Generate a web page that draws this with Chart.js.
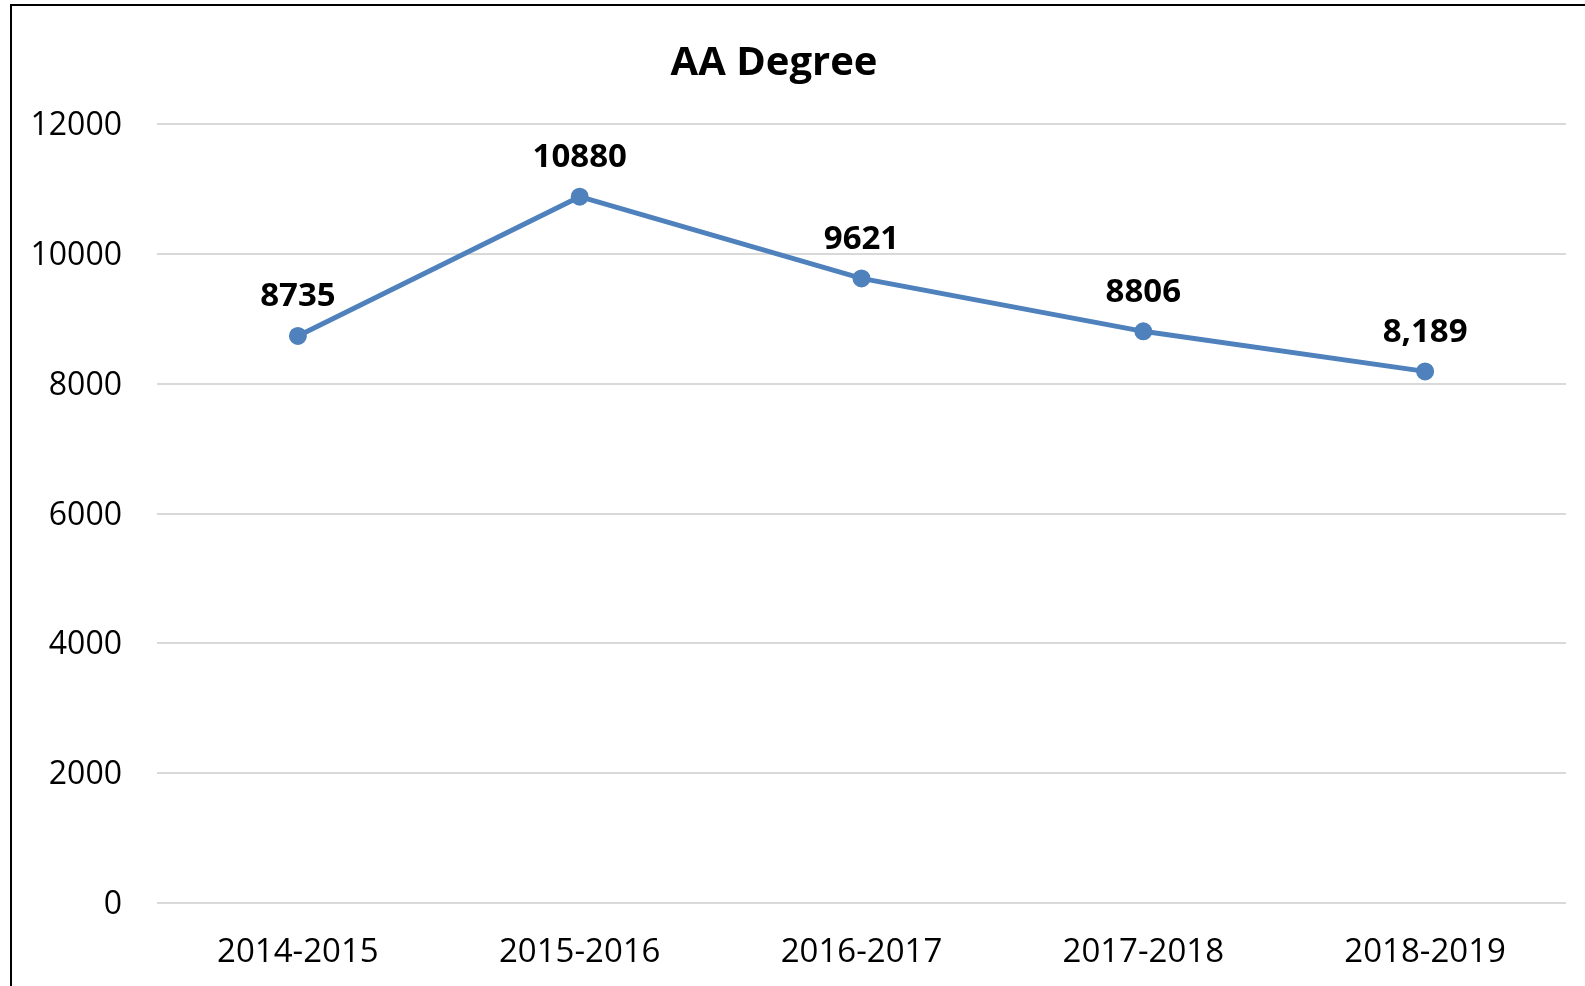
<!DOCTYPE html>
<html>
<head>
<meta charset="utf-8">
<script src="https://cdn.jsdelivr.net/npm/chart.js@4.4.1/dist/chart.umd.min.js"></script>
<style>
  html, body { margin: 0; padding: 0; background: #fff; overflow: hidden; }
  #wrap { position: absolute; left: 0; top: 0; width: 1585px; height: 986px; }
  #frame { position: absolute; left: 10px; top: 4px; width: 1600px; height: 1000px;
           border-left: 2px solid #000; border-top: 2px solid #000; box-sizing: border-box; }
</style>
</head>
<body>
<div id="wrap">
  <canvas id="myChart" width="1585" height="986"></canvas>
  <div id="frame"></div>
</div>
<script>
var chartTitle = 'AA Degree';
var years = ['2014-2015', '2015-2016', '2016-2017', '2017-2018', '2018-2019'];
var degrees = [8735, 10880, 9621, 8806, 8189];
var pointLabels = ['8735', '10880', '9621', '8806', '8,189'];
var yTicks = [0, 2000, 4000, 6000, 8000, 10000, 12000];

var lineColor = '#4F81BD';
var fontFamily = "'Open Sans', 'Liberation Sans', sans-serif";

// title + value labels drawn on top of the chart
var labelPlugin = {
  id: 'labelPlugin',
  afterDatasetsDraw: function(chart) {
    var c = chart.ctx;
    c.save();
    c.fillStyle = '#000';
    c.textAlign = 'center';
    c.textBaseline = 'middle';
    c.font = 'bold 40px ' + fontFamily;
    c.fillText(chartTitle, 774, 64);
    c.font = 'bold 33px ' + fontFamily;
    var meta = chart.getDatasetMeta(0);
    for (var i = 0; i < meta.data.length; i++) {
      var pt = meta.data[i];
      c.fillText(pointLabels[i], pt.x, pt.y - 39);
    }
    c.restore();
  }
};

var ctx = document.getElementById('myChart').getContext('2d');
var chart = new Chart(ctx, {
  type: 'line',
  data: {
    labels: years,
    datasets: [{
      label: chartTitle,
      data: degrees,
      fill: false,
      lineTension: 0,
      borderColor: lineColor,
      backgroundColor: lineColor,
      borderWidth: 5,
      pointRadius: 6.5,
      pointHoverRadius: 6.5,
      pointBackgroundColor: lineColor,
      pointBorderColor: lineColor
    }]
  },
  options: {
    responsive: false,
    animation: false,
    layout: { padding: { top: 124, right: 19, bottom: 0, left: 0 } },
    plugins: {
      legend: { display: false },
      title: { display: false },
      tooltip: { enabled: false }
    },
    scales: {
      x: {
        offset: true,
        grid: { display: false, drawTicks: false },
        border: { display: false },
        ticks: { color: '#000', padding: 30, font: { family: fontFamily, size: 33 } },
        afterFit: function(scale) { scale.height = 83; }
      },
      y: {
        min: 0,
        max: 12000,
        afterBuildTicks: function(scale) {
          scale.ticks = yTicks.map(function(v) { return { value: v }; });
        },
        grid: { color: '#d9d9d9', lineWidth: 2, drawTicks: false },
        border: { display: false },
        ticks: {
          color: '#000', padding: 35, labelOffset: 2, font: { family: fontFamily, size: 32 },
          callback: function(value) { return String(value); }
        },
        afterFit: function(scale) { scale.width = 157; }
      }
    }
  },
  plugins: [labelPlugin]
});
</script>
</body>
</html>
